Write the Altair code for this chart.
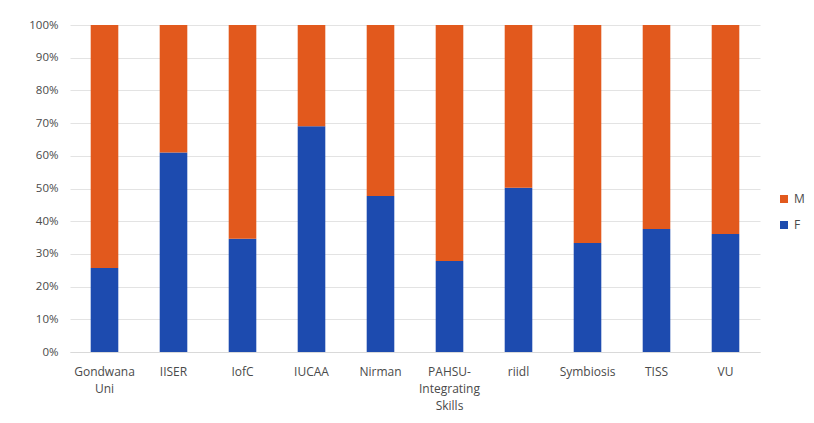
import altair as alt
import pandas as pd

categories = ["Gondwana Uni", "IISER", "IofC", "IUCAA", "Nirman",
              "PAHSU-Integrating Skills", "riidl", "Symbiosis", "TISS", "VU"]
f_values = [25.7, 61.0, 34.6, 69.0, 47.7, 27.8, 50.2, 33.3, 37.6, 36.1]
m_values = [74.3, 39.0, 65.4, 31.0, 52.3, 72.2, 49.8, 66.7, 62.4, 63.9]
series = ["M", "F"]
colors = ["#E2591D", "#1D4BAF"]
y_ticks = [0, 0.1, 0.2, 0.3, 0.4, 0.5, 0.6, 0.7, 0.8, 0.9, 1.0]

rows = []
for c, f, m in zip(categories, f_values, m_values):
    rows.append({"cat": c, "sex": "F", "val": f, "ord": 0})
    rows.append({"cat": c, "sex": "M", "val": m, "ord": 1})
df = pd.DataFrame(rows)

font = "Open Sans"
label_color = "#4a4a4a"

chart = alt.Chart(df).mark_bar().encode(
    x=alt.X("cat:N", sort=categories, title=None,
            scale=alt.Scale(paddingInner=0.6, paddingOuter=0.3),
            axis=alt.Axis(labelAngle=0, labelFont=font, labelFontSize=12,
                          labelColor=label_color, labelPadding=14,
                          labelLineHeight=17, ticks=False,
                          domainColor="#d9d9d9", labelBaseline="top",
                          labelExpr="split(replace(replace(datum.value,'-','-|'),' ','|'),'|')")),
    y=alt.Y("val:Q", stack="normalize", title=None,
            scale=alt.Scale(domain=[0, 1]),
            axis=alt.Axis(values=y_ticks, format=".0%", labelFont=font,
                          labelFontSize=11.5, labelColor=label_color,
                          labelPadding=12, ticks=False, domain=False,
                          gridColor="#e3e3e3", gridWidth=1)),
    color=alt.Color("sex:N",
                    scale=alt.Scale(domain=series, range=colors),
                    legend=alt.Legend(title=None, orient="none",
                                      legendX=708, legendY=168,
                                      symbolType="square", symbolSize=64,
                                      symbolStrokeWidth=0,
                                      labelFont=font, labelFontSize=12,
                                      labelColor=label_color,
                                      rowPadding=14, labelOffset=4)),
    order=alt.Order("ord:Q", sort="ascending"),
).properties(
    width=690, height=327,
    autosize=alt.AutoSizeParams(type="none"),
    padding={"left": 62, "top": 17, "right": 46, "bottom": 63},
).configure_view(stroke=None)

chart.save("out.html", embed_options={"renderer": "svg", "actions": False})
